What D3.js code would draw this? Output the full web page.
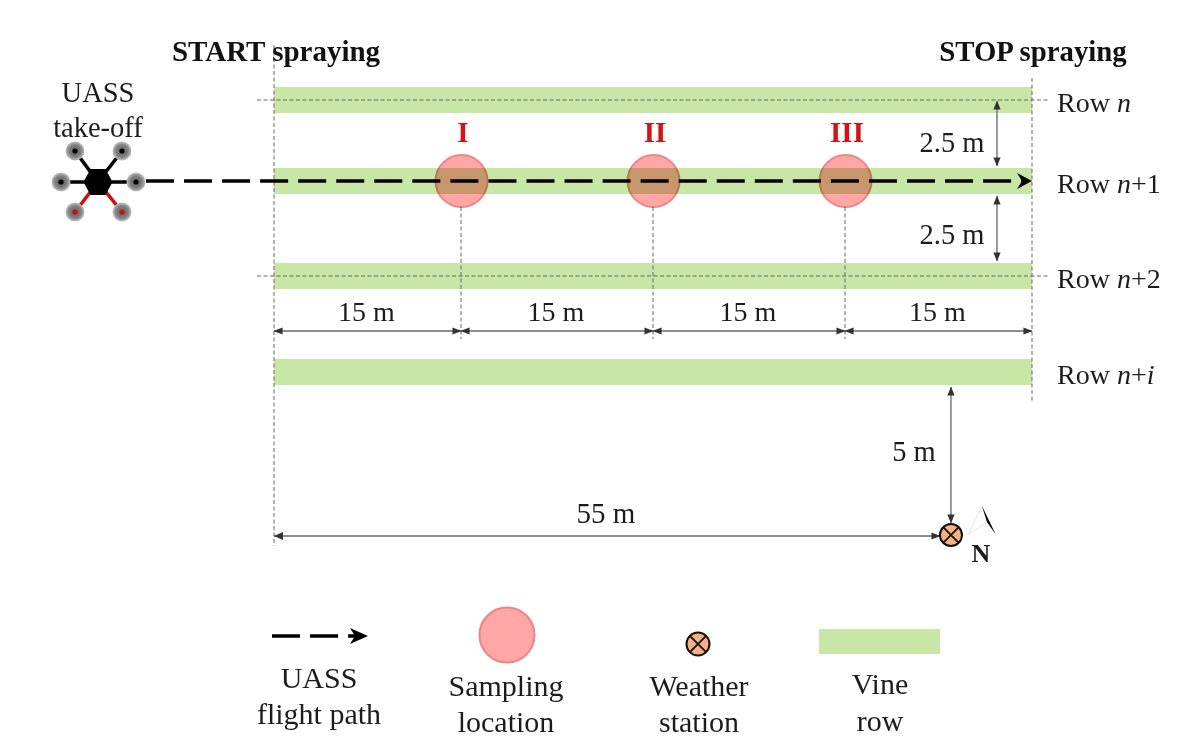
<!DOCTYPE html>
<html lang="en">

<head>
  <meta charset="utf-8">
  <title>Spraying layout</title>
  <script src="https://d3js.org/d3.v7.min.js"></script>
  <style>
    body { margin: 0; background: #fff; }
    text { font-family: "Liberation Serif", serif; fill: #1c1c1c; }
  </style>
</head>

<body>
  <div id="container"></div>

  <script>
    // layout along the row, in metres
    var spanStops = [0, 15, 30, 45, 60];
    var spanLabels = ["15 m", "15 m", "15 m", "15 m"];

    // rows
    var rowNames = ["n", "n+1", "n+2", "n+i"];
    var rowSuffix = ["", "+1", "+2", "+i"];

    // sampling locations
    var samplingNames = ["I", "II", "III"];
    var samplingMetres = [15, 30, 45];

    var rowGapLabels = ["2.5 m", "2.5 m"];
    var stationLabels = ["55 m", "5 m"];
    var stationMetres = 53.5; // the sketch is not to scale, this is where it is drawn

    var legendLabels = [["UASS", "flight path"], ["Sampling", "location"], ["Weather", "station"], ["Vine", "row"]];

    var w = 1200;
    var h = 750;

    var green = "#c8e6a6";
    var grey = "#666";

    var x = d3.scaleLinear().domain(spanStops).range([274, 461, 653, 845, 1032]);
    var y = d3.scaleOrdinal().domain(rowNames).range([100, 181, 276, 372]);

    var svg = d3.select("#container").append("svg")
      .attr("width", w)
      .attr("height", h)
      .attr("viewBox", "0 0 " + w + " " + h);

    var defs = svg.append("defs");

    function marker(id, color, size) {
      defs.append("marker")
        .attr("id", id)
        .attr("viewBox", "0 0 10 10")
        .attr("refX", 9.5)
        .attr("refY", 5)
        .attr("markerUnits", "userSpaceOnUse")
        .attr("markerWidth", size)
        .attr("markerHeight", size)
        .attr("orient", "auto-start-reverse")
        .append("path")
        .attr("d", "M0,1L10,5L0,9Z")
        .attr("fill", color);
    }
    marker("dim", "#333", 9);

    var rotor = defs.append("radialGradient").attr("id", "rotor");
    rotor.append("stop").attr("offset", "0%").attr("stop-color", "#5c5c5c");
    rotor.append("stop").attr("offset", "65%").attr("stop-color", "#828282");
    rotor.append("stop").attr("offset", "100%").attr("stop-color", "#c4c4c4");

    function label(parent, str, px, py, size, anchor) {
      return parent.append("text")
        .attr("x", px)
        .attr("y", py)
        .attr("font-size", size)
        .attr("text-anchor", anchor || "middle")
        .text(str);
    }

    function dashedLine(x1, y1, x2, y2) {
      svg.append("line")
        .attr("x1", x1).attr("y1", y1)
        .attr("x2", x2).attr("y2", y2)
        .attr("stroke", "#666")
        .attr("stroke-width", 1)
        .attr("stroke-dasharray", "4 2.5");
    }

    function dimLine(x1, y1, x2, y2, both) {
      var l = svg.append("line")
        .attr("x1", x1).attr("y1", y1)
        .attr("x2", x2).attr("y2", y2)
        .attr("stroke", grey)
        .attr("stroke-width", 1.3)
        .attr("marker-end", "url(#dim)");
      if (both) l.attr("marker-start", "url(#dim)");
    }

    function flightPath(x1, x2, py, headLen) {
      svg.append("line")
        .attr("x1", x1).attr("y1", py)
        .attr("x2", x2 - 6).attr("y2", py)
        .attr("stroke", "#000")
        .attr("stroke-width", 3.4)
        .attr("stroke-dasharray", "28 10.05");
      svg.append("path")
        .attr("d", "M" + (x2 - headLen) + "," + (py - 8) + "L" + x2 + "," + py + "L" + (x2 - headLen) + "," + (py + 8) + "L" + (x2 - headLen + 5) + "," + py + "Z")
        .attr("fill", "#000");
    }

    function sampling(cx, cy, r) {
      svg.append("circle")
        .attr("cx", cx)
        .attr("cy", cy)
        .attr("r", r)
        .attr("fill", "#ffa6a6")
        .attr("stroke", "#ee8585")
        .attr("stroke-width", 2)
        .style("mix-blend-mode", "multiply");
    }

    function station(cx, cy, r) {
      var g = svg.append("g").attr("transform", "translate(" + cx + "," + cy + ")");
      g.append("circle")
        .attr("r", r)
        .attr("fill", "#f4b183")
        .attr("stroke", "#111")
        .attr("stroke-width", 2);
      var k = r * Math.SQRT1_2;
      g.append("path")
        .attr("d", "M" + (-k) + "," + (-k) + "L" + k + "," + k + "M" + k + "," + (-k) + "L" + (-k) + "," + k)
        .attr("stroke", "#111")
        .attr("stroke-width", 1.8);
    }

    // vine rows
    svg.selectAll("rect.row")
      .data(rowNames)
      .enter()
      .append("rect")
      .attr("class", "row")
      .attr("x", x(0))
      .attr("y", function(d) { return y(d) - 13; })
      .attr("width", x(60) - x(0))
      .attr("height", 26)
      .attr("fill", green);

    // start and stop lines
    dashedLine(x(0), 45, x(0), 546);
    dashedLine(x(60), 78, x(60), 403);

    // row centre lines
    dashedLine(257, y("n"), 1048, y("n"));
    dashedLine(257, y("n+2"), 1048, y("n+2"));

    // drops from the sampling locations
    samplingMetres.forEach(function(d) {
      dashedLine(x(d), 207, x(d), 339);
    });

    // the drone
    var drone = svg.append("g").attr("transform", "translate(98,182)");
    var arms = [[-23, -31, "#000"], [24, -31, "#000"], [-37, 0, "#000"], [38, 0, "#000"], [-23, 30, "#d01010"], [24, 30, "#d01010"]];
    arms.forEach(function(a) {
      drone.append("line")
        .attr("x1", 0).attr("y1", 0)
        .attr("x2", a[0]).attr("y2", a[1])
        .attr("stroke", a[2])
        .attr("stroke-width", 3.6);
    });
    arms.forEach(function(a) {
      drone.append("circle")
        .attr("cx", a[0]).attr("cy", a[1])
        .attr("r", 9.5)
        .attr("fill", "url(#rotor)");
      drone.append("circle")
        .attr("cx", a[0]).attr("cy", a[1])
        .attr("r", 2.6)
        .attr("fill", a[2] === "#000" ? "#000" : "#d01010");
    });
    drone.append("path")
      .attr("d", "M-14.5,0L-7.5,-13L7.5,-13L14.5,0L7.5,13L-7.5,13Z")
      .attr("fill", "#000");

    flightPath(146, x(60), y("n+1"), 15);

    samplingMetres.forEach(function(d, i) {
      sampling(x(d) + 0.5, y("n+1"), 26);
      label(svg, samplingNames[i], x(d) + 2, 142, 29)
        .attr("font-weight", "bold")
        .style("fill", "#d41414");
    });

    // row to row distances
    dimLine(997, 101, 997, 166, true);
    dimLine(997, 196, 997, 261, true);
    label(svg, rowGapLabels[0], 952, 152, 28.5);
    label(svg, rowGapLabels[1], 952, 244, 28.5);

    // 15 m spans
    spanLabels.forEach(function(d, i) {
      dimLine(x(spanStops[i]), 331, x(spanStops[i + 1]), 331, true);
      label(svg, d, (x(spanStops[i]) + x(spanStops[i + 1])) / 2 - 1, 321, 28);
    });

    // weather station distances
    dimLine(x(0), 536, x(stationMetres) - 11, 536, false);
    svg.append("path").attr("d", "M" + (x(0) + 9) + ",532L" + x(0) + ",536L" + (x(0) + 9) + ",540Z").attr("fill", "#333");
    dimLine(x(stationMetres), 387, x(stationMetres), 523, true);
    label(svg, stationLabels[0], 606, 523, 29);
    label(svg, stationLabels[1], 914, 461, 28.5);
    station(x(stationMetres), 535, 11);

    // north arrow
    svg.append("path").attr("d", "M982,506L968,535L987,522Z").attr("fill", "#fff").attr("stroke", "#ddd").attr("stroke-width", 0.8);
    svg.append("path").attr("d", "M982,506L996,535L987,522Z").attr("fill", "#000");
    label(svg, "N", 981, 562, 26).attr("font-weight", "bold");

    // titles
    label(svg, "START spraying", 276, 61, 29).attr("font-weight", "bold").style("fill", "#111");
    label(svg, "STOP spraying", 1033, 61, 28.8).attr("font-weight", "bold").style("fill", "#111");
    label(svg, "UASS", 98, 102, 28.5);
    label(svg, "take-off", 98, 137, 28.5);

    // row labels
    rowNames.forEach(function(d, i) {
      var t = label(svg, null, 1057, y(d) + 12, 28, "start");
      t.append("tspan").text("Row ");
      t.append("tspan").attr("font-style", "italic").text("n");
      if (i === 3) {
        t.append("tspan").text("+");
        t.append("tspan").attr("font-style", "italic").text("i");
      } else {
        t.append("tspan").text(rowSuffix[i]);
      }
    });

    // legend
    flightPath(272, 368, 636, 18);
    sampling(507, 635, 27.5);
    station(698, 644, 11.5);
    svg.append("rect")
      .attr("x", 819).attr("y", 629)
      .attr("width", 121).attr("height", 25)
      .attr("fill", green);

    var legendX = [319, 506, 699, 880];
    var legendY = [[688, 724], [696, 732], [696, 732], [694, 731]];
    legendLabels.forEach(function(lines, i) {
      lines.forEach(function(s, j) {
        label(svg, s, legendX[i], legendY[i][j], 30);
      });
    });
  </script>

</body>

</html>
